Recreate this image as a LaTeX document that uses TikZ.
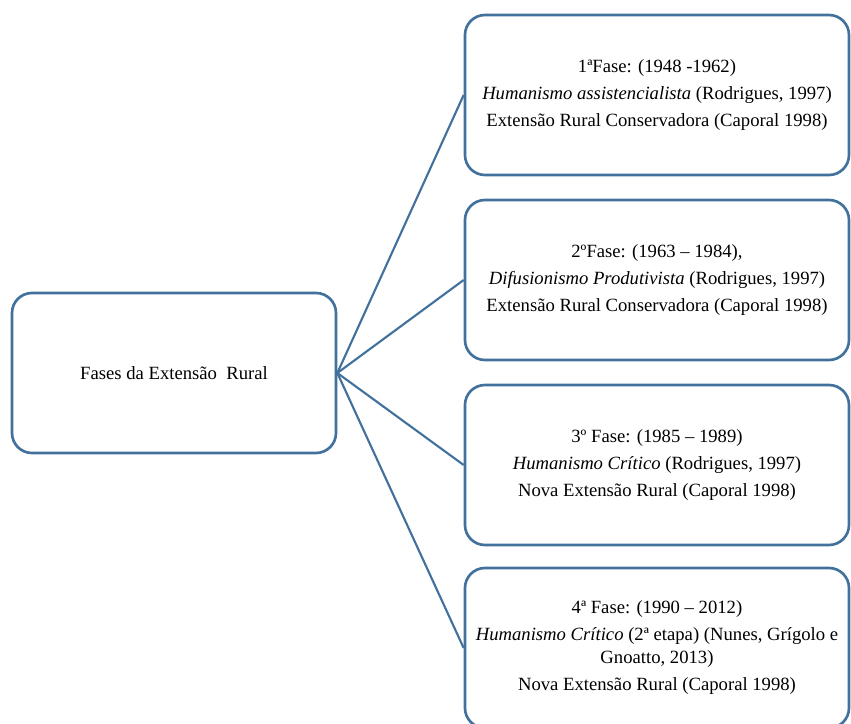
\documentclass[tikz,border=0pt]{standalone}
\usepackage{fontspec}
\setmainfont{Liberation Serif}
\definecolor{boxblue}{RGB}{65,113,156}

\begin{document}
\begin{tikzpicture}[x=0.75pt,y=-0.75pt,
  fase/.style={draw=boxblue, line width=2pt, rounded corners=15pt, fill=white,
    align=center, font=\fontsize{14}{20.25}\selectfont,
    minimum width=288pt, minimum height=120pt},
  raiz/.style={fase, minimum width=243pt},
  ramo/.style={boxblue, line width=1.6pt}]
\useasboundingbox (0,0) rectangle (851,724);
\clip (0,0) rectangle (851,724);

% Nodes
\node[raiz] (raiz) at (174,373) {Fases da Extensão\ \ Rural};
\node[fase] (f1) at (657,95) {1ªFase: (1948 -1962)\\
  \textit{Humanismo assistencialista} (Rodrigues, 1997)\\
  Extensão Rural Conservadora (Caporal 1998)};
\node[fase] (f2) at (657,280) {2ºFase: (1963 -- 1984),\\
  \textit{Difusionismo Produtivista} (Rodrigues, 1997)\\
  Extensão Rural Conservadora (Caporal 1998)};
\node[fase] (f3) at (657,465) {3º Fase: (1985 -- 1989)\\
  \textit{Humanismo Crítico} (Rodrigues, 1997)\\
  Nova Extensão Rural (Caporal 1998)};
\node[fase] (f4) at (657,648) {4ª Fase: (1990 -- 2012)\\
  \textit{Humanismo Crítico} (2ª etapa) (Nunes, Grígolo e\\[-3pt]
  Gnoatto, 2013)\\
  Nova Extensão Rural (Caporal 1998)};

% edges, each separately
\draw[ramo] (raiz.east) -- (f1.west);
\draw[ramo] (raiz.east) -- (f2.west);
\draw[ramo] (raiz.east) -- (f3.west);
\draw[ramo] (raiz.east) -- (f4.west);
\end{tikzpicture}
\end{document}
